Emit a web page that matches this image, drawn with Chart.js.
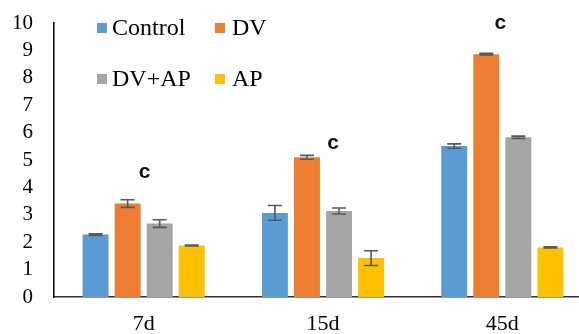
<!DOCTYPE html>
<html>
<head>
<meta charset="utf-8">
<script src="https://cdn.jsdelivr.net/npm/chart.js@4.4.1/dist/chart.umd.min.js"></script>
<style>
  html, body { margin: 0; padding: 0; background: #fff; overflow: hidden; }
  #wrap { width: 600px; height: 334px; }
</style>
</head>
<body>
<div id="wrap"><canvas id="c" width="600" height="334"></canvas></div>
<script>
// ---- data ----
const categories = ['7d', '15d', '45d'];
const seriesNames = ['Control', 'DV', 'DV+AP', 'AP'];
const controlValues = [2.28, 3.07, 5.51];
const controlErrors = [0.03, 0.27, 0.08];
const dvValues = [3.41, 5.10, 8.86];
const dvErrors = [0.14, 0.07, 0.03];
const dvapValues = [2.68, 3.14, 5.83];
const dvapErrors = [0.14, 0.11, 0.04];
const apValues = [1.88, 1.42, 1.81];
const apErrors = [0.02, 0.27, 0.02];
const sigLetters = ['c', 'c', 'c'];
const yTicks = [0, 1, 2, 3, 4, 5, 6, 7, 8, 9, 10];

const colors = ['#5B9BD5', '#ED7D31', '#A5A5A5', '#FFC000'];
const values = [controlValues, dvValues, dvapValues, apValues];
const errors = [controlErrors, dvErrors, dvapErrors, apErrors];

const errorBarPlugin = {
  id: 'errorBars',
  afterDatasetsDraw(chart) {
    const ctx = chart.ctx;
    const y = chart.scales.y;
    ctx.save();
    ctx.strokeStyle = '#595959';
    ctx.lineWidth = 1.6;
    chart.data.datasets.forEach((ds, i) => {
      const meta = chart.getDatasetMeta(i);
      meta.data.forEach((el, j) => {
        const v = ds.data[j], e = ds.errors[j];
        const yt = y.getPixelForValue(v + e), yb = y.getPixelForValue(v - e);
        const x = el.x, cap = 7;
        ctx.beginPath();
        ctx.moveTo(x, yt); ctx.lineTo(x, yb);
        ctx.moveTo(x - cap, yt); ctx.lineTo(x + cap, yt);
        ctx.moveTo(x - cap, yb); ctx.lineTo(x + cap, yb);
        ctx.stroke();
      });
    });
    ctx.restore();
  }
};

const letterPlugin = {
  id: 'sigLetters',
  afterDatasetsDraw(chart, args, opts) {
    const ctx = chart.ctx;
    ctx.save();
    ctx.font = 'bold 21px "Liberation Sans", Arial, sans-serif';
    ctx.fillStyle = '#111';
    ctx.textAlign = 'center';
    ctx.textBaseline = 'middle';
    sigLetters.forEach((t, j) => {
      const x = chart.scales.x.getPixelForValue(j) + opts.dx[j];
      const yy = chart.scales.y.getPixelForValue(opts.yv[j]);
      ctx.fillText(t, x, yy);
    });
    ctx.restore();
  }
};

const legendPlugin = {
  id: 'customLegend',
  afterDraw(chart, args, opts) {
    const ctx = chart.ctx;
    ctx.save();
    ctx.font = '24px "Liberation Serif", "Times New Roman", serif';
    ctx.textBaseline = 'middle';
    ctx.textAlign = 'left';
    chart.data.datasets.forEach((ds, i) => {
      const p = opts.pos[i];
      ctx.fillStyle = ds.backgroundColor;
      ctx.fillRect(p[0], p[1] - 5, 10, 10);
      ctx.fillStyle = '#000';
      ctx.fillText(ds.label, p[2], p[1] + 1);
    });
    ctx.restore();
  }
};

new Chart(document.getElementById('c'), {
  type: 'bar',
  data: {
    labels: categories,
    datasets: seriesNames.map((n, i) => ({
      label: n,
      data: values[i],
      errors: errors[i],
      backgroundColor: colors[i],
      borderWidth: 0,
      categoryPercentage: 0.715,
      barPercentage: 0.81
    }))
  },
  options: {
    responsive: false,
    animation: false,
    layout: { padding: { top: 23, right: 8, left: 0, bottom: 0 } },
    plugins: {
      legend: { display: false },
      tooltip: { enabled: false },
      sigLetters: { dx: [1, 10, -2], yv: [4.55, 5.6, 10.0] },
      customLegend: { pos: [[97, 28, 112], [215, 28, 232], [97, 79, 112], [215, 79, 232]] }
    },
    scales: {
      x: {
        grid: { display: false, drawTicks: false },
        border: { display: true, color: '#333', width: 1.6 },
        ticks: {
          padding: 14,
          color: '#000',
          font: { family: '"Liberation Serif", "Times New Roman", serif', size: 22, lineHeight: 1.2 }
        },
        afterFit(s) { s.height = 37; s.paddingLeft = 0; s.paddingRight = 0; }
      },
      y: {
        min: 0, max: 10,
        grid: { display: false, drawTicks: false },
        border: { display: true, color: '#111', width: 1.6 },
        afterBuildTicks(s) { s.ticks = yTicks.map(v => ({ value: v })); },
        ticks: {
          autoSkip: false,
          padding: 21,
          color: '#000',
          font: { family: '"Liberation Serif", "Times New Roman", serif', size: 21 }
        },
        afterFit(s) { s.width = 54; s.paddingTop = 0; s.paddingBottom = 0; }
      }
    }
  },
  plugins: [errorBarPlugin, letterPlugin, legendPlugin]
});
</script>
</body>
</html>
